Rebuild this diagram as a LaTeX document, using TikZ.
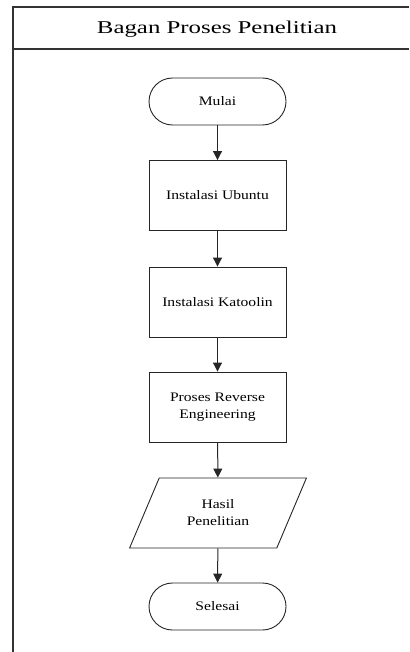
\documentclass[tikz,border=0pt]{standalone}
\usepackage{fontspec}
\setmainfont{Liberation Serif}
\newfontfamily\titlefont[FakeStretch=1.38]{Liberation Serif}
\newfontfamily\boxfont[FakeStretch=1.2]{Liberation Serif}
\usepackage{tikz}
\usetikzlibrary{shapes.geometric,arrows.meta}

\begin{document}
\begin{tikzpicture}[x=1pt,y=-1pt,shorten >=0pt,-{Triangle[length=9pt,width=9pt]}]
            \tikzstyle{frame}=[draw=black!80,line width=1.2pt,-]
            \tikzstyle{block}=[rectangle,draw=black!85,line width=0.9pt,fill=white,minimum width=137pt,minimum height=70pt,inner sep=0pt,align=center,font=\boxfont\fontsize{13}{17}\selectfont]
            \tikzstyle{pill}=[block,rounded corners=23.5pt,minimum height=47pt]
            \tikzstyle{data}=[block,trapezium,trapezium left angle=59,trapezium right angle=121,trapezium stretches=true,minimum width=178pt]
                \useasboundingbox (0,0) rectangle (409,652);
                \draw[frame] (409,7) -- (13,7) -- (13,652);
                \draw[frame] (13,49) -- (409,49);
                \node[font=\titlefont\fontsize{18}{22}\selectfont] (T) at (217,29){Bagan Proses Penelitian};

                \node[pill] (B-1) at (217.5,101.5){Mulai};
                \node[block] (B-2) at (217.5,195.5){Instalasi Ubuntu};
                \node[block] (B-3) at (217.5,302){Instalasi Katoolin};
                \node[block] (B-4) at (217.5,407){Proses Reverse\\Engineering};
                \node[data] (B-5) at (218,513){Hasil\\Penelitian};
                \node[pill] (B-6) at (217.5,606.5){Selesai};

                \foreach \from/\to in {1/2, 2/3, 3/4, 4/5, 5/6}
                    \draw[line width=1pt,draw=black!85] (B-\from) -- (B-\to);
        \end{tikzpicture}
\end{document}
